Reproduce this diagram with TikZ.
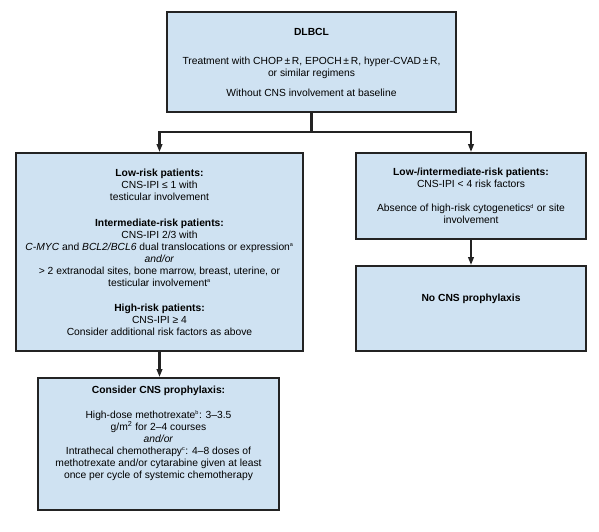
\documentclass[tikz,border=0pt]{standalone}
\usepackage{fontspec}
\setmainfont{Liberation Sans}
\usetikzlibrary{arrows.meta}
\definecolor{BoxBlue}{RGB}{207,226,242}
\definecolor{EdgeGrey}{RGB}{35,35,35}
\newcommand{\fnmark}[1]{\textsuperscript{\fontsize{5.5}{6}\selectfont #1}}

\begin{document}
\begin{tikzpicture}[x=1pt, y=-1pt,
    box/.style={draw=EdgeGrey, line width=1.8pt, fill=BoxBlue, align=center, inner sep=0pt,
                font=\fontsize{10.3}{12}\selectfont},
    link/.style={draw=EdgeGrey, line width=2.3pt},
    arr/.style={link, -{Triangle[length=8pt, width=5.5pt]}}]
  \useasboundingbox (0,0) rectangle (599,531);
  \node[box, minimum width=289pt, minimum height=100pt] (dlbcl) at (311.5,62)
    {\textbf{DLBCL}\\[17pt]
     Treatment with CHOP\,±\,R, EPOCH\,±\,R, hyper-CVAD\,±\,R,\\
     or similar regimens\\[8pt]
     Without CNS involvement at baseline};
  \node[box, minimum width=287pt, minimum height=198pt] (risk) at (159.5,252)
    {\textbf{Low-risk patients:}\\
     CNS-IPI ≤ 1 with\\
     testicular involvement\\[14pt]
     \textbf{Intermediate-risk patients:}\\
     CNS-IPI 2/3 with\\
     \textit{C-MYC} and \textit{BCL2/BCL6} dual translocations or expression\fnmark{a}\\
     \textit{and/or}\\
     > 2 extranodal sites, bone marrow, breast, uterine, or\\
     testicular involvement\fnmark{a}\\[13pt]
     \textbf{High-risk patients:}\\
     CNS-IPI ≥ 4\\
     Consider additional risk factors as above};
  \node[box, minimum width=230pt, minimum height=86pt] (lowint) at (471,196)
    {\textbf{Low-/intermediate-risk patients:}\\
     CNS-IPI < 4 risk factors\\[12pt]
     Absence of high-risk cytogenetics\fnmark{d} or site\\
     involvement};
  \node[box, minimum width=230pt, minimum height=85pt] (noproph) at (471,308.5)
    {\textbf{No CNS prophylaxis}\\[10pt]};
  \node[box, minimum width=241pt, minimum height=132pt] (proph) at (158.5,444)
    {\textbf{Consider CNS prophylaxis:}\\[13pt]
     High-dose methotrexate\fnmark{b}: 3–3.5\\
     g/m\textsuperscript{2} for 2–4 courses\\
     \textit{and/or}\\
     Intrathecal chemotherapy\fnmark{c}: 4–8 doses of\\
     methotrexate and/or cytarabine given at least\\
     once per cycle of systemic chemotherapy\\[12pt]};
  \coordinate (split) at (311.5,132);
  \draw[link] (dlbcl.south) -- (split);
  \draw[arr] (split) -| (risk.north);
  \draw[arr] (split) -| (lowint.north);
  \draw[arr] (lowint.south) -- (noproph.north);
  \draw[arr] (risk.south) -- (risk.south |- proph.north);
\end{tikzpicture}
\end{document}
